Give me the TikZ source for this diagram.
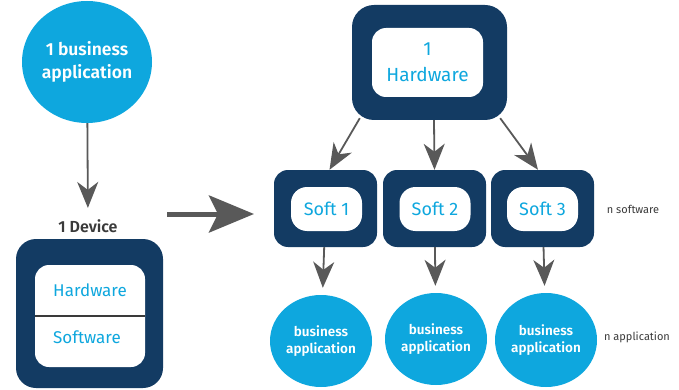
\documentclass[tikz,border=0pt]{standalone}
\usepackage{fontspec}
\setmainfont{Fira Sans}[BoldFont={Fira Sans SemiBold}]
\usepackage{tikz}
\usetikzlibrary{shapes.geometric,arrows.meta}
\definecolor{myblue}{HTML}{133B63}
\definecolor{mycyan}{HTML}{0EA7DE}
\definecolor{mygray}{HTML}{595959}
\definecolor{mytext}{HTML}{3A3A3A}
\tikzstyle{app} = [ellipse,fill=mycyan,text=white,align=center,inner sep=0pt,font=\bfseries\fontsize{13.5}{17}\selectfont]
\tikzstyle{outerbox} = [rectangle,fill=myblue,inner sep=0pt]
\tikzstyle{innerbox} = [rectangle,fill=white,text=mycyan,align=center,inner sep=0pt]
\tikzstyle{arrow} = [mygray,line width=1.8pt,-{Stealth[length=26pt,width=21pt,inset=8pt]}]
\tikzstyle{side} = [text=mytext,font=\fontsize{11}{13}\selectfont]

\begin{document}
\begin{tikzpicture}[x=1pt,y=-1pt]
          \useasboundingbox (0,0) rectangle (679,390);
          % left: one device
          \node[app,minimum width=130pt,minimum height=122pt,font=\bfseries\fontsize{17.5}{23}\selectfont] (app0) at (87,62) {1 business\\application};
          \node[text=mytext,font=\bfseries\fontsize{16}{18}\selectfont] (devlabel) at (88,226) {1 Device};
          \node[outerbox,rounded corners=20pt,minimum width=147pt,minimum height=149pt] (dev) at (89.5,313.5) {};
          \node[innerbox,rounded corners=14pt,minimum width=110pt,minimum height=102pt] (devin) at (90,316) {};
          \draw[mytext,line width=1.5pt] (devin.west) -- (devin.east);
          \node[text=mycyan,font=\fontsize{17}{20}\selectfont] (devhw) at (90,290) {Hardware};
          \node[text=mycyan,font=\fontsize{17}{20}\selectfont] (devsw) at (87,337) {Software};
          \draw[arrow,shorten >=8pt] (app0) -- (devlabel);

          % big arrow
          \coordinate (bigtail) at (167,214);
          \coordinate (bighead) at (254,214);
          \draw[mygray,line width=5pt,-{Stealth[length=45pt,width=37pt,inset=9pt]}] (bigtail) -- (bighead);

          % right: one hardware, n software
          \node[outerbox,rounded corners=22pt,minimum width=155pt,minimum height=115pt] (hw) at (429.5,62.5) {};
          \node[innerbox,rounded corners=14pt,minimum width=111pt,minimum height=69pt,font=\fontsize{19}{26}\selectfont] (hwin) at (427.5,62.5) {1\\Hardware};

          \node[outerbox,rounded corners=14pt,minimum width=103pt,minimum height=77pt] (soft1) at (325.5,208.5) {};
          \node[outerbox,rounded corners=14pt,minimum width=103pt,minimum height=77pt] (soft2) at (434.5,208.5) {};
          \node[outerbox,rounded corners=14pt,minimum width=103pt,minimum height=77pt] (soft3) at (542.5,208.5) {};
          \node[innerbox,rounded corners=16pt,minimum width=71pt,minimum height=44pt,font=\fontsize{18}{20}\selectfont] (soft1in) at (326.5,209) {Soft 1};
          \node[innerbox,rounded corners=16pt,minimum width=71pt,minimum height=44pt,font=\fontsize{18}{20}\selectfont] (soft2in) at (435,209) {Soft 2};
          \node[innerbox,rounded corners=16pt,minimum width=71pt,minimum height=44pt,font=\fontsize{18}{20}\selectfont] (soft3in) at (542.5,209) {Soft 3};

          \draw[arrow] ([xshift=8pt,yshift=2pt]hw.south west) -- ([xshift=4pt]soft1.north);
          \draw[arrow] ([xshift=4.5pt]hw.south) -- (soft2.north);
          \draw[arrow] ([xshift=-7pt,yshift=2pt]hw.south east) -- ([xshift=-4.5pt]soft3.north);

          \node[app,minimum width=102pt,minimum height=92pt] (app1) at (321,341) {business\\application};
          \node[app,minimum width=102pt,minimum height=92pt] (app2) at (436,339) {business\\application};
          \node[app,minimum width=102pt,minimum height=94pt] (app3) at (546,340) {business\\application};

          \draw[arrow,shorten >=7pt] (soft1) -- (app1);
          \draw[arrow,shorten >=7pt] (soft2) -- (app2);
          \draw[arrow,shorten >=7pt] (soft3) -- (app3);

          \node[side] (nsoft) at (633,209) {n software};
          \node[side] (napp) at (637,337) {n application};
      \end{tikzpicture}
\end{document}
